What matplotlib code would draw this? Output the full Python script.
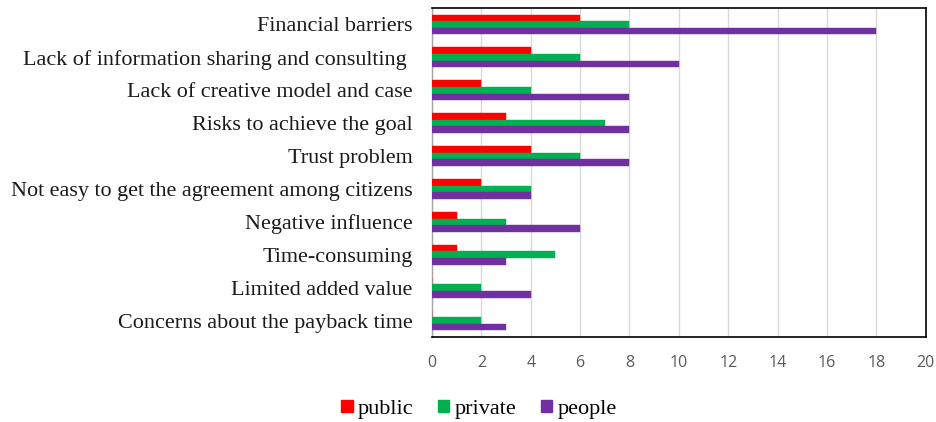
import matplotlib
matplotlib.use("Agg")
import matplotlib.pyplot as plt
from matplotlib.patches import Patch
import numpy as np

# Barrier categories, listed top to bottom
CATEGORIES = [
    "Financial barriers",
    "Lack of information sharing and consulting ",
    "Lack of creative model and case",
    "Risks to achieve the goal",
    "Trust problem",
    "Not easy to get the agreement among citizens",
    "Negative influence",
    "Time-consuming",
    "Limited added value",
    "Concerns about the payback time",
]
PUBLIC = [6, 4, 2, 3, 4, 2, 1, 1, 0, 0]
PRIVATE = [8, 6, 4, 7, 6, 4, 3, 5, 2, 2]
PEOPLE = [18, 10, 8, 8, 8, 4, 6, 3, 4, 3]
X_TICKS = [0, 2, 4, 6, 8, 10, 12, 14, 16, 18, 20]

SERIES = [("public", PUBLIC, "#FF0000"),
          ("private", PRIVATE, "#00B050"),
          ("people", PEOPLE, "#7030A0")]

SERIF = "Liberation Serif"
SANS = "Open Sans"

fig = plt.figure(figsize=(9.36, 4.22), dpi=100)
ax = fig.add_axes([0.4615, 0.2014, 0.5275, 0.7796])

y = np.arange(len(CATEGORIES))
bar_h = 0.2
for i, (name, values, color) in enumerate(SERIES):
    ax.barh(y + (i - 1) * bar_h, values, height=bar_h, color=color,
            edgecolor=color, linewidth=0.3, label=name, zorder=3)

ax.set_ylim(len(CATEGORIES) - 0.5, -0.5)
ax.set_xlim(0, 20)
ax.set_yticks(y)
ax.set_yticklabels(CATEGORIES, family=SERIF, fontsize=15.9, color="#1a1a1a")
ax.set_xticks(X_TICKS)
ax.set_xticklabels([str(t) for t in X_TICKS], family=SANS, fontsize=11.5,
                   color="#595959")
ax.tick_params(axis="y", length=0, pad=14)
ax.tick_params(axis="x", length=0, pad=13)
ax.grid(axis="x", color="#d9d9d9", linewidth=1, zorder=0)

for side in ["top", "right", "bottom"]:
    ax.spines[side].set_color("#000000")
    ax.spines[side].set_linewidth(1.2)
ax.spines["left"].set_color("#a6a6a6")
ax.spines["left"].set_linewidth(1)

handles = [Patch(facecolor=c, edgecolor=c, label=n) for n, _, c in SERIES]
fig.legend(handles=handles, loc="center", bbox_to_anchor=(0.512, 0.03),
           ncol=3, frameon=False, prop={"family": SERIF, "size": 16},
           handlelength=0.5, handleheight=0.5, handletextpad=0.25,
           columnspacing=1.1)

fig.savefig("out.png", dpi=100)
